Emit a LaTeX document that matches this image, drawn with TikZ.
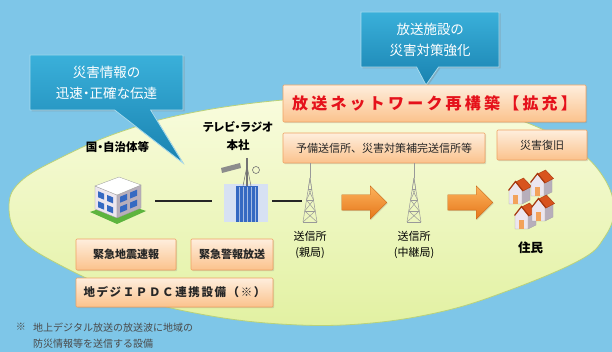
\documentclass[tikz,border=0pt]{standalone}
\usepackage{fontspec}
\setmainfont{Noto Sans CJK JP}
\usetikzlibrary{positioning,shapes.callouts,shapes.arrows,shadows}

\definecolor{skyback}{HTML}{7EC6E8}
\definecolor{fieldtop}{HTML}{F9FCDE}
\definecolor{fieldbot}{HTML}{E2F1A2}
\definecolor{fieldedge}{HTML}{B9D27A}
\definecolor{calltop}{HTML}{3AB0DA}
\definecolor{callbot}{HTML}{1982B0}
\definecolor{peachtop}{HTML}{FEEEDD}
\definecolor{peachbot}{HTML}{FBC28C}
\definecolor{peachedge}{HTML}{EFA262}
\definecolor{titlered}{HTML}{E5111B}
\definecolor{arrowtop}{HTML}{FCB35C}
\definecolor{arrowbot}{HTML}{E6761A}
\definecolor{roofred}{HTML}{D8541E}
\definecolor{roofdark}{HTML}{A8380E}
\definecolor{wallfront}{HTML}{ECE6EE}
\definecolor{wallside}{HTML}{B7AEBB}
\definecolor{doororange}{HTML}{F2A25A}
\definecolor{glass}{HTML}{3569C2}
\definecolor{lawn}{HTML}{5DB43E}
\definecolor{notegray}{HTML}{4A4A4A}

\tikzset{
  callbox/.style={rectangle callout, draw=white!55!calltop, line width=0.8pt,
    top color=calltop, bottom color=callbot, text=white, align=center,
    font=\fontsize{13.5}{21}\selectfont\addfontfeatures{RawFeature=+palt},
    drop shadow={shadow xshift=1.5pt, shadow yshift=-1.5pt, opacity=0.35}},
  peach/.style={draw=peachedge, line width=0.6pt, rounded corners=1pt,
    top color=peachtop, bottom color=peachbot, inner sep=0pt, text=black!85,
    font=\bfseries\fontsize{11}{13}\selectfont,
    drop shadow={shadow xshift=1.2pt, shadow yshift=-1.2pt, opacity=0.25}},
  spot/.style={inner sep=0pt, outer sep=0pt},
  link/.style={line width=1.3pt, black!85},
  mast/.style={line width=0.5pt, black!40},
  tag/.style={inner sep=0pt, align=center, font=\fontsize{11}{16}\selectfont},
  heading/.style={tag, font=\bfseries\fontsize{11.5}{18}\selectfont\addfontfeatures{RawFeature=+palt}},
  blockarrow/.style={single arrow, single arrow head extend=9pt, inner sep=7.5pt,
    minimum height=45pt, top color=arrowtop, bottom color=arrowbot,
    draw=arrowbot!85!black, line width=0.3pt,
    drop shadow={shadow xshift=1pt, shadow yshift=-1pt, opacity=0.2}},
  pylon/.pic={
    \draw[mast] (0,-44) -- (-7,0) (0,-44) -- (7,0);
    \foreach \h/\w in {0/7,11/5.25,22/3.5,33/1.75}
      \draw[mast] (-\w,-\h) -- (\w,-\h);
    \draw[mast] (-7,0) -- (5.25,-11) -- (-3.5,-22) -- (1.75,-33) -- (0,-44);
    \draw[mast] (7,0) -- (-5.25,-11) -- (3.5,-22) -- (-1.75,-33) -- (0,-44);
  },
  cottage/.pic={
    \fill[wallside, draw=black!35, line width=0.3pt] (13,0) -- (21,-4) -- (21,-18) -- (13,-14) -- cycle;
    \fill[wallfront, draw=black!35, line width=0.3pt] (0,0) -- (13,0) -- (13,-14) -- (6.5,-22) -- (0,-14) -- cycle;
    \fill[roofred, draw=roofdark, line width=0.4pt] (6.5,-22) -- (14.5,-26) -- (22.5,-17.5) -- (14,-13) -- cycle;
    \draw[roofdark, line width=1.2pt] (-0.5,-13.5) -- (6.5,-22.5) -- (14,-13);
    \fill[doororange] (4,0) rectangle (9,-9);
  }
}

\begin{document}
\begin{tikzpicture}[x=1pt,y=-1pt]
  \useasboundingbox (0,0) rectangle (612,352);
  \fill[skyback] (0,0) rectangle (612,352);

  % area served
  \draw[fieldedge, line width=0.8pt, top color=fieldtop, bottom color=fieldbot]
    plot[smooth cycle, tension=0.65] coordinates {
      (9,207) (20,182) (60,158) (120,132) (190,113) (283,100) (380,96)
      (460,104) (525,122) (575,148) (604,178) (614,210) (604,238) (580,260)
      (510,290) (440,312) (360,324) (280,324) (200,314) (130,296) (60,265) (20,238)};

  % speech bubbles
  \node[callbox, minimum width=153pt, minimum height=55pt,
    callout absolute pointer={(183,163)}, callout pointer width=36pt]
    (infocall) at (106.5,82.5) {災害情報の\\迅速・正確な伝達};
  \node[callbox, minimum width=138pt, minimum height=55pt,
    callout absolute pointer={(426,85)}, callout pointer width=22pt]
    (plantcall) at (430,39.5) {放送施設の\\災害対策強化};

  % boxes
  \node[peach, minimum width=303pt, minimum height=37pt, text=titlered,
    font=\bfseries\fontsize{16}{20}\selectfont\addfontfeatures{LetterSpace=20}]
    (rebuild) at (434.5,103.5) {放送ネットワーク再構築【拡充】};
  \node[peach, minimum width=202pt, minimum height=30pt, font=\fontsize{11}{13}\selectfont]
    (spare) at (384,148) {予備送信所、災害対策補完送信所等};
  \node[peach, minimum width=90pt, minimum height=30pt, font=\fontsize{11}{13}\selectfont]
    (restore) at (542,145) {災害復旧};
  \node[peach, minimum width=100pt, minimum height=31pt] (quake) at (126,254.5) {緊急地震速報};
  \node[peach, minimum width=82pt, minimum height=31pt] (alarm) at (232,254.5) {緊急警報放送};
  \node[peach, minimum width=197pt, minimum height=29pt,
    font=\bfseries\fontsize{11.5}{13}\selectfont\addfontfeatures{LetterSpace=14}]
    (ipdc) at (174.5,292.5) {地デジＩＰＤＣ連携設備（※）};

  % icon places
  \node[spot, minimum width=51pt, minimum height=50pt] (gov) at (117.5,201) {};
  \node[spot, minimum width=47pt, minimum height=50pt] (station) at (243.5,201) {};
  \node[spot, minimum width=16pt, minimum height=44pt] (tower1) at (310,200) {};
  \node[spot, minimum width=16pt, minimum height=44pt] (tower2) at (414,200) {};
  \node[spot, minimum width=45pt, minimum height=60pt] (homes) at (530.5,200) {};

  % office building
  \fill[lawn] (90,212) -- (117,224) -- (146,211) -- (120,202) -- cycle;
  \fill[wallfront, draw=black!40, line width=0.3pt] (95,186) -- (117,195) -- (117,218) -- (95,209) -- cycle;
  \fill[wallside, draw=black!40, line width=0.3pt] (117,195) -- (141,185) -- (141,208) -- (117,218) -- cycle;
  \fill[white, draw=black!40, line width=0.3pt] (95,186) -- (119,177) -- (141,185) -- (117,195) -- cycle;
  \foreach \x in {98,107}
    \foreach \y in {0,10}
      \fill[glass] (\x,{190+0.409*(\x-95)+\y}) -- ++(6,2.45) -- ++(0,6) -- ++(-6,-2.45) -- cycle;
  \foreach \x in {120,130}
    \foreach \y in {0,10}
      \fill[glass] (\x,{198-0.417*(\x-117)+\y}) -- ++(7,-2.9) -- ++(0,6) -- ++(-7,2.9) -- cycle;

  % broadcast centre
  \fill[glass!20] (224,184) rectangle (268,222);
  \fill[glass] (236,186) rectangle (258,222);
  \foreach \x in {239,243,...,255}
    \draw[glass!45, line width=0.6pt] (\x,187) -- (\x,222);
  \draw[black!55, line width=1.2pt] (247,158) -- (247,186);
  \draw[black!55, line width=0.5pt] (243,186) -- (247,166) -- (251,186);
  \fill[black!45] (221,168) -- (240,163) -- (241,168) -- (222,173) -- cycle;
  \draw[black!55, line width=0.6pt] (256,170) circle (3.5pt);

  % masts
  \pic at (tower1.south) {pylon};
  \pic at (tower2.south) {pylon};
  \draw[mast] (spare.south -| tower1) -- (tower1.north);
  \draw[mast] (spare.south -| tower2) -- (tower2.north);

  % houses
  \pic at (509,204) {cottage};
  \pic at (531,196) {cottage};
  \pic at (515,229) {cottage};
  \pic at (532,221) {cottage};

  % links
  \draw[link, shorten <=12pt, shorten >=8pt] (gov.east) -- (station.west);
  \draw[link, shorten <=5pt] (station.east) -- (station.east -| tower1.west);
  \node[blockarrow] (hopA) at (360.5,202.5) {};
  \node[blockarrow] (hopB) at (466.5,202.5) {};

  % labels
  \node[heading, above=23pt of gov] {国・自治体等};
  \node[heading] at (238,136) {テレビ・ラジオ\\本社};
  \node[tag, below=9pt of tower1] {送信所\\(親局)};
  \node[tag, below=9pt of tower2] {送信所\\(中継局)};
  \node[tag, font=\bfseries\fontsize{12.5}{16}\selectfont, below=12pt of homes] {住民};

  % footnote
  \node[tag, text=notegray, font=\fontsize{10}{16}\selectfont] at (21,327) {※};
  \node[tag, text=notegray, font=\fontsize{10}{16}\selectfont, align=left, anchor=north west]
    at (33,323) {地上デジタル放送の放送波に地域の\\防災情報等を送信する設備};
\end{tikzpicture}
\end{document}
